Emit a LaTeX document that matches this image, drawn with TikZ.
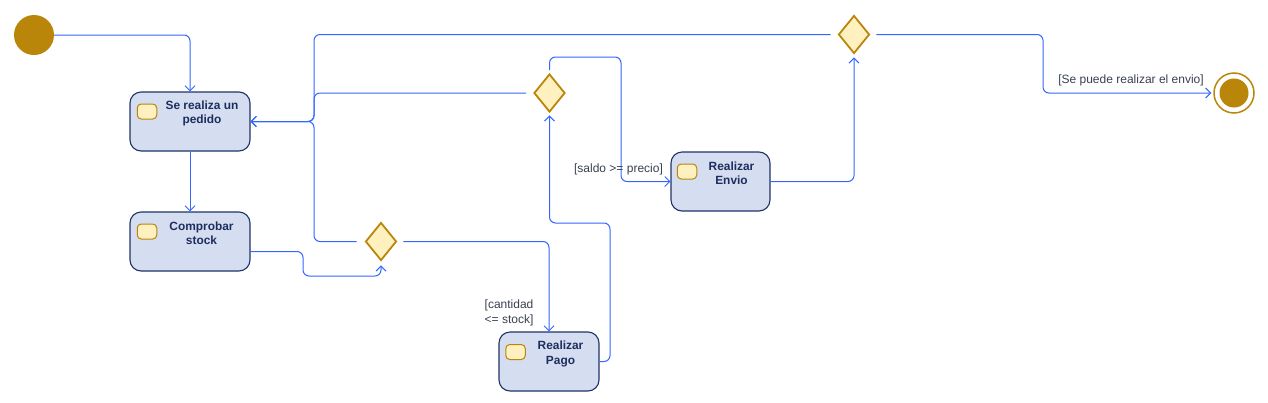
\documentclass[tikz,border=0pt]{standalone}
\usepackage{fontspec}
\setmainfont{Liberation Sans}
\usetikzlibrary{shapes.geometric,arrows.meta}
\definecolor{lineblue}{RGB}{51,102,255}
\definecolor{boxfill}{RGB}{212,222,240}
\definecolor{boxdraw}{RGB}{31,51,102}
\definecolor{gold}{RGB}{186,134,10}
\definecolor{cream}{RGB}{255,240,192}
\definecolor{navytext}{RGB}{31,45,94}
\definecolor{guardtext}{RGB}{58,64,80}
\begin{document}
\begin{tikzpicture}[x=1pt,y=-1pt,
  actbox/.style={draw=boxdraw, fill=boxfill, line width=1.1pt, rounded corners=11pt,
    minimum width=#1, minimum height=59pt, inner sep=0pt},
  icon/.style={draw=gold, fill=cream, line width=1pt, rounded corners=4pt,
    minimum width=19.5pt, minimum height=15pt, inner sep=0pt},
  acttext/.style={text=navytext, font=\fontsize{11.9}{14.3}\selectfont\bfseries,
    align=center, inner sep=0pt},
  guard/.style={text=guardtext, font=\fontsize{12}{14.8}\selectfont, inner sep=0pt},
  dec/.style={diamond, draw=gold, fill=cream, line width=1.8pt, inner sep=0pt,
    minimum width=31pt, minimum height=38pt},
  startnode/.style={circle, fill=gold, minimum size=40pt, inner sep=0pt},
  endout/.style={circle, draw=gold, fill=white, line width=1.5pt, minimum size=40pt, inner sep=0pt},
  endin/.style={circle, fill=gold, minimum size=29pt, inner sep=0pt},
  conn/.style={draw=lineblue, line width=1pt, rounded corners=6pt,
    -{Straight Barb[length=5pt,width=10pt]}}
]
\useasboundingbox (0,0) rectangle (1268,402);

\node[startnode] (start) at (34,35) {};

\node[actbox=120pt] (pedido) at (190,121.5) {};
\node[icon] (pedido-i) at (147,111.5) {};
\node[acttext] (pedido-t) at (202,113.5) {Se realiza un\\pedido};

\node[actbox=120pt] (stock) at (190,241.5) {};
\node[icon] (stock-i) at (147,231.5) {};
\node[acttext] (stock-t) at (201.5,233.5) {Comprobar\\stock};

\node[actbox=100pt] (pago) at (549,361.5) {};
\node[icon] (pago-i) at (515.5,352) {};
\node[acttext] (pago-t) at (560.5,354) {Realizar\\Pago};

\node[actbox=99pt] (envio) at (720.5,181.5) {};
\node[icon] (envio-i) at (687,171.5) {};
\node[acttext] (envio-t) at (731.5,173.5) {Realizar\\Envio};

\node[dec] (d1) at (381,241.5) {};
\node[dec] (d2) at (549.5,93) {};
\node[dec] (d3) at (854,34.5) {};

\node[endout] (end) at (1234,93) {};
\node[endin] (end-i) at (end) {};

\coordinate (m) at (314,121.5);

% connectors
\draw[conn] (start) -| (pedido);
\draw[conn] (pedido) -- (stock);
\draw[conn, shorten >=4pt] ([yshift=-10pt]stock.east) -- (303,251.5) -- (303,276) -| (d1.south);
\draw[conn, shorten <=8pt] (d1.west) -| (m) -- (pedido.east);
\draw[conn, shorten <=7pt] (d2.west) -| (m) -- (pedido.east);
\draw[conn, shorten <=7pt] (d3.west) -| (m) -- (pedido.east);
\draw[conn, shorten <=6pt] (d1.east) -| (pago.north);
\draw[conn, shorten >=2.5pt] (pago.east) -- (610,361.5) -- (610,223) -- (549.5,223) -- (d2.south);
\draw[conn, shorten <=3pt] (d2.north) -- (549.5,57) -- (621,57) |- (envio.west);
\draw[conn, shorten >=3pt] (envio.east) -| (d3.south);
\draw[conn, shorten <=6pt, shorten >=2pt] (d3.east) -- (1043,34.5) |- (end.west);

% guards
\node[guard, align=left, anchor=west] (g1) at (484.5,313) {[cantidad\\<= stock]};
\node[guard] (g2) at (618.5,169.5) {[saldo >= precio]};
\node[guard] (g3) at (1131,80.5) {[Se puede realizar el envio]};
\end{tikzpicture}
\end{document}
